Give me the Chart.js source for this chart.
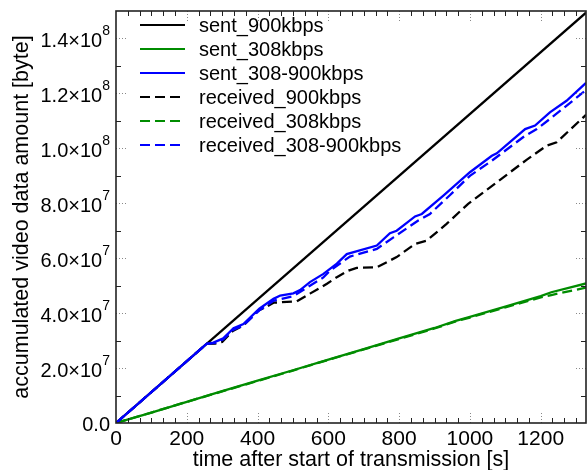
<!DOCTYPE html>
<html>
<head>
<meta charset="utf-8">
<script src="https://cdn.jsdelivr.net/npm/chart.js@4/dist/chart.umd.min.js"></script>
<style>
  html, body { margin: 0; padding: 0; background: #fff; }
</style>
</head>
<body>
<canvas id="chart" width="587" height="470"></canvas>
<script>
// Axis ticks
const xTicks = [0, 200, 400, 600, 800, 1000, 1200];
const yTicks = [0, 2e7, 4e7, 6e7, 8e7, 1.0e8, 1.2e8, 1.4e8];
const xMax = 1328, yMax = 1.5e8;

// Series names (legend order)
const labels = ['sent_900kbps', 'sent_308kbps', 'sent_308-900kbps',
    'received_900kbps', 'received_308kbps', 'received_308-900kbps'];

// time after start [s] / accumulated bytes
const sent900T = [0, 1328];
const sent900V = [0, 1.494e8];

const sent308T = [0, 100, 200, 300, 400, 500, 600, 700, 800, 900, 960, 1000, 1100, 1200, 1230, 1328];
const sent308V = [0, 0.38e7, 0.77e7, 1.16e7, 1.54e7, 1.92e7, 2.31e7, 2.69e7, 3.08e7, 3.46e7, 3.72e7, 3.86e7, 4.24e7, 4.62e7, 4.76e7, 5.08e7];

const sentMixT = [0, 256, 275, 303, 332, 360, 405, 445, 464, 501, 520, 548, 586, 624, 652, 737, 774, 793, 845, 864, 925, 1000, 1062, 1076, 1156, 1184, 1226, 1273, 1328];
const sentMixV = [0, 2.88e7, 2.93e7, 3.08e7, 3.45e7, 3.60e7, 4.16e7, 4.52e7, 4.64e7, 4.72e7, 4.84e7, 5.13e7, 5.43e7, 5.80e7, 6.15e7, 6.46e7, 6.91e7, 7.00e7, 7.52e7, 7.61e7, 8.28e7, 9.13e7, 9.73e7, 9.82e7, 10.70e7, 10.83e7, 11.31e7, 11.73e7, 12.38e7];

const recv900T = [0, 256, 280, 300, 330, 360, 400, 426, 445, 511, 548, 596, 624, 657, 680, 737, 793, 845, 878, 934, 995, 1057, 1160, 1217, 1245, 1328];
const recv900V = [0, 2.88e7, 2.89e7, 2.95e7, 3.35e7, 3.55e7, 4.08e7, 4.24e7, 4.38e7, 4.43e7, 4.71e7, 5.07e7, 5.31e7, 5.55e7, 5.65e7, 5.67e7, 6.04e7, 6.52e7, 6.64e7, 7.25e7, 7.98e7, 8.58e7, 9.58e7, 10.10e7, 10.22e7, 11.22e7];

const recv308T = [0, 100, 200, 300, 400, 500, 600, 700, 800, 900, 960, 1000, 1100, 1200, 1230, 1328];
const recv308V = [0, 0.38e7, 0.77e7, 1.15e7, 1.53e7, 1.91e7, 2.30e7, 2.68e7, 3.06e7, 3.44e7, 3.70e7, 3.84e7, 4.21e7, 4.57e7, 4.66e7, 4.93e7];

const recvMixT = [0, 256, 280, 303, 332, 360, 405, 445, 501, 548, 586, 605, 661, 737, 784, 854, 887, 944, 1000, 1062, 1156, 1189, 1226, 1328];
const recvMixV = [0, 2.88e7, 2.92e7, 3.05e7, 3.40e7, 3.55e7, 4.10e7, 4.45e7, 4.62e7, 5.00e7, 5.30e7, 5.55e7, 6.06e7, 6.34e7, 6.76e7, 7.37e7, 7.61e7, 8.30e7, 9.00e7, 9.55e7, 10.46e7, 10.70e7, 11.07e7, 12.12e7];

const BLACK = '#000000', GREEN = '#008c00', BLUE = '#0000ff';
const FONT = '"Liberation Sans", Arial, sans-serif';

const pts = (t, v) => t.map((x, i) => ({ x: x, y: v[i] }));

const series = [
    { t: sent900T, v: sent900V, color: BLACK, dash: [], order: 3 },
    { t: sent308T, v: sent308V, color: GREEN, dash: [], order: 5 },
    { t: sentMixT, v: sentMixV, color: BLUE, dash: [], order: 1 },
    { t: recv900T, v: recv900V, color: BLACK, dash: [10, 5], order: 4 },
    { t: recv308T, v: recv308V, color: GREEN, dash: [10, 5], order: 6 },
    { t: recvMixT, v: recvMixV, color: BLUE, dash: [10, 5], order: 2 },
];

const datasets = series.map((s, i) => ({
    label: labels[i],
    data: pts(s.t, s.v),
    borderColor: s.color,
    backgroundColor: s.color,
    borderDash: s.dash,
    borderWidth: 2.3,
    pointRadius: 0,
    tension: 0,
    fill: false,
    order: s.order,
}));

// frame, ticks, y labels, titles and legend
const framePlugin = {
    id: 'frame',
    afterDraw(chart) {
        const ctx = chart.ctx, a = chart.chartArea;
        const xs = chart.scales.x, ys = chart.scales.y;
        ctx.save();

        // minor ticks
        ctx.strokeStyle = '#222';
        ctx.lineWidth = 1;
        ctx.beginPath();
        for (let k = 1; k * 200 / 6 < xMax; k++) {
            if (k % 6 === 0) continue;
            const px = Math.round(xs.getPixelForValue(k * 200 / 6)) + 0.5;
            ctx.moveTo(px, a.bottom); ctx.lineTo(px, a.bottom - 5);
            ctx.moveTo(px, a.top); ctx.lineTo(px, a.top + 5);
        }
        for (let k = 1; k * 1e7 < yMax; k += 2) {
            const py = Math.round(ys.getPixelForValue(k * 1e7)) + 0.5;
            ctx.moveTo(a.left, py); ctx.lineTo(a.left + 5, py);
            ctx.moveTo(a.right, py); ctx.lineTo(a.right - 5, py);
        }
        ctx.stroke();

        // major ticks (dotted)
        ctx.strokeStyle = '#888';
        ctx.setLineDash([1, 2]);
        ctx.beginPath();
        xTicks.slice(1).forEach(v => {
            const px = Math.round(xs.getPixelForValue(v)) + 0.5;
            ctx.moveTo(px, a.bottom); ctx.lineTo(px, a.bottom - 11);
            ctx.moveTo(px, a.top); ctx.lineTo(px, a.top + 11);
        });
        yTicks.slice(1).forEach(v => {
            const py = Math.round(ys.getPixelForValue(v)) + 0.5;
            ctx.moveTo(a.left, py); ctx.lineTo(a.left + 10, py);
            ctx.moveTo(a.right, py); ctx.lineTo(a.right - 10, py);
        });
        ctx.stroke();
        ctx.setLineDash([]);

        // frame
        ctx.strokeStyle = '#222';
        ctx.lineWidth = 1.6;
        ctx.strokeRect(a.left, a.top, a.right - a.left, a.bottom - a.top);

        // y tick labels with exponent
        ctx.fillStyle = '#000';
        ctx.textBaseline = 'middle';
        yTicks.forEach(v => {
            const py = ys.getPixelForValue(v) + 3;
            const right = a.left - 6;
            if (v === 0) {
                ctx.font = '20px ' + FONT;
                ctx.textAlign = 'right';
                ctx.fillText('0.0', right, py - 1);
                return;
            }
            const e = Math.floor(Math.log10(v) + 1e-9);
            const m = (v / Math.pow(10, e)).toFixed(1);
            ctx.font = '14px ' + FONT;
            const supW = ctx.measureText(String(e)).width;
            ctx.textAlign = 'left';
            ctx.fillText(String(e), right - supW, py - 10);
            ctx.font = '20px ' + FONT;
            ctx.textAlign = 'right';
            ctx.fillText(m + '\u00d710', right - supW, py);
        });

        // axis titles
        ctx.font = '21.5px ' + FONT;
        ctx.textAlign = 'center';
        ctx.fillText('time after start of transmission [s]', (a.left + a.right) / 2, 460);
        ctx.save();
        ctx.translate(22, (a.top + a.bottom) / 2);
        ctx.rotate(-Math.PI / 2);
        ctx.fillText('accumulated video data amount [byte]', 0, 0);
        ctx.restore();

        // legend
        ctx.font = '20px ' + FONT;
        ctx.textAlign = 'left';
        series.forEach((s, i) => {
            const ly = 25 + i * 24;
            ctx.strokeStyle = s.color;
            ctx.lineWidth = 2;
            ctx.setLineDash(s.dash);
            ctx.beginPath();
            ctx.moveTo(140, ly); ctx.lineTo(185, ly);
            ctx.stroke();
            ctx.setLineDash([]);
            ctx.fillStyle = '#000';
            ctx.fillText(labels[i], 199, ly + 1);
        });

        ctx.restore();
    }
};

const canvas = document.getElementById('chart');
new Chart(canvas, {
    type: 'line',
    data: { datasets: datasets },
    options: {
        responsive: false,
        animation: false,
        layout: { padding: { top: 11, right: 1, left: 0, bottom: 0 } },
        plugins: { legend: { display: false }, tooltip: { enabled: false } },
        scales: {
            x: {
                type: 'linear', min: 0, max: xMax,
                grid: { display: false, drawTicks: false },
                border: { display: false },
                ticks: {
                    font: { size: 21, family: FONT }, color: '#000', padding: 4,
                    maxRotation: 0, autoSkip: false,
                    callback: v => String(v),
                },
                afterBuildTicks: s => { s.ticks = xTicks.map(v => ({ value: v })); },
                afterFit: s => { s.height = 47; },
            },
            y: {
                type: 'linear', min: 0, max: yMax,
                grid: { display: false, drawTicks: false },
                border: { display: false },
                ticks: { display: false },
                afterBuildTicks: s => { s.ticks = yTicks.map(v => ({ value: v })); },
                afterFit: s => { s.width = 116; },
            },
        },
    },
    plugins: [framePlugin],
});
</script>
</body>
</html>
